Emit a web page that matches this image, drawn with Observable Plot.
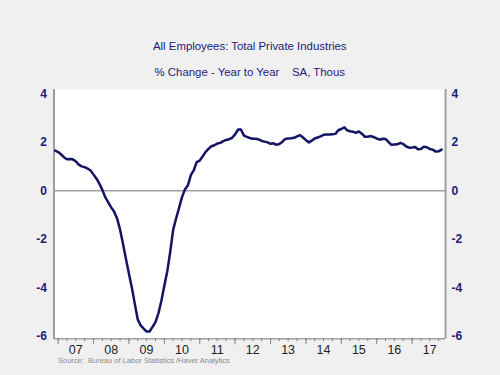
<!DOCTYPE html>
<html>
<head>
<meta charset="utf-8">
<script src="https://cdn.jsdelivr.net/npm/d3@7"></script>
<script src="https://cdn.jsdelivr.net/npm/@observablehq/plot@0.6"></script>
<style>
  html, body { margin: 0; padding: 0; background: #f0f0f0; }
  #chart svg { display: block; }
</style>
</head>
<body>
<div id="chart"></div>
<script>
const title = "All Employees: Total Private Industries";
const subtitle = "% Change - Year to Year\u00a0\u00a0\u00a0\u00a0SA, Thous";
const source = "Source:  Bureau of Labor Statistics /Haver Analytics";

// Monthly % change year-to-year, Dec 2006 .. Nov 2017
const firstMonth = [2006, 11]; // year, zero-based month
const pctChange = [
  1.66,
  1.60, 1.50, 1.39, 1.30, 1.31, 1.30, 1.22, 1.08, 1.01, 0.98, 0.92, 0.84,
  0.67, 0.50, 0.30, 0.04, -0.26, -0.47, -0.68, -0.86, -1.15, -1.60, -2.20, -2.82,
  -3.43, -4.03, -4.64, -5.30, -5.55, -5.68, -5.80, -5.80, -5.61, -5.41, -5.04, -4.53,
  -3.90, -3.29, -2.55, -1.62, -1.15, -0.71, -0.27, 0.06, 0.23, 0.65, 0.86, 1.19,
  1.25, 1.43, 1.60, 1.73, 1.84, 1.88, 1.95, 1.98, 2.05, 2.10, 2.13, 2.19,
  2.33, 2.53, 2.53, 2.28, 2.23, 2.18, 2.15, 2.15, 2.12, 2.06, 2.03, 2.00,
  1.94, 1.96, 1.90, 1.93, 2.02, 2.14, 2.16, 2.17, 2.19, 2.25, 2.30, 2.20,
  2.09, 2.00, 2.07, 2.16, 2.20, 2.25, 2.31, 2.32, 2.32, 2.33, 2.35, 2.50,
  2.55, 2.62, 2.50, 2.46, 2.44, 2.39, 2.45, 2.36, 2.23, 2.23, 2.26, 2.22,
  2.16, 2.11, 2.15, 2.14, 2.02, 1.90, 1.91, 1.92, 1.98, 1.93, 1.83, 1.78,
  1.79, 1.81, 1.72, 1.73, 1.82, 1.80, 1.73, 1.70, 1.62, 1.63, 1.70
];

const yearLabels = ["07","08","09","10","11","12","13","14","15","16","17"];
const yTicks = [-6, -4, -2, 0, 2, 4];
const xDomain = [new Date(Date.UTC(2006, 10, 19)), new Date(Date.UTC(2017, 11, 11))];
const yDomain = [-6.1, 4.18];

const data = pctChange.map((v, i) => ({
  date: new Date(Date.UTC(firstMonth[0], firstMonth[1] + i, 1)),
  value: v
}));

const years = yearLabels.map(s => 2000 + +s);
const yearStarts = years.concat([years[years.length - 1] + 1])
  .map(y => new Date(Date.UTC(y, 0, 1)))
  .filter(d => d >= xDomain[0] && d <= xDomain[1]);
const quarterTicks = d3.utcMonth.every(3).range(xDomain[0], xDomain[1]);
const midYears = years.map(y => new Date(Date.UTC(y, 6, 1)));

const navy = "#1b1b78";
const axisGray = "#a0a0a0";

const chart = Plot.plot({
  width: 500,
  height: 375,
  marginLeft: 53.5,
  marginRight: 55,
  marginTop: 89,
  marginBottom: 36.7,
  style: { background: "#f0f0f0", fontFamily: "'Liberation Sans', Arial, sans-serif" },
  x: { type: "utc", domain: xDomain },
  y: { domain: yDomain },
  marks: [
    Plot.frame({ fill: "white", stroke: "none" }),
    Plot.ruleY([0], { stroke: axisGray, strokeWidth: 1.5 }),
    Plot.ruleY([yDomain[0]], { stroke: axisGray, strokeWidth: 1.5 }),
    Plot.ruleX(xDomain, { stroke: axisGray, strokeWidth: 2 }),
    Plot.axisX({ ticks: quarterTicks, tickSize: 3, fill: "none", stroke: "#888", label: null }),
    Plot.axisX({ ticks: yearStarts, tickSize: 6, fill: "none", stroke: "#888", label: null }),
    Plot.text(yearLabels, { x: (d, i) => midYears[i], frameAnchor: "bottom", dy: 15, fontSize: 12.5, fill: "#222" }),
    Plot.axisY({ anchor: "left", ticks: yTicks, tickSize: 0, tickPadding: 7, fontSize: 12, fontWeight: 600, color: navy, label: null, tickFormat: d => String(d) }),
    Plot.axisY({ anchor: "right", ticks: yTicks, tickSize: 0, tickPadding: 6, fontSize: 12, fontWeight: 600, color: navy, label: null, tickFormat: d => String(d) }),
    Plot.lineY(data, { x: "date", y: "value", stroke: "#141464", strokeWidth: 2.5 }),
    Plot.text([title], { frameAnchor: "top", dy: -48, fontSize: 11.4, fill: navy }),
    Plot.text([subtitle], { frameAnchor: "top", dy: -22, fontSize: 11.4, fill: navy }),
    Plot.text([source], { frameAnchor: "bottom-left", dx: 4, dy: 24, textAnchor: "start", fontSize: 7.5, fill: "#8a8a8a" })
  ]
});
document.getElementById("chart").appendChild(chart);
</script>
</body>
</html>
